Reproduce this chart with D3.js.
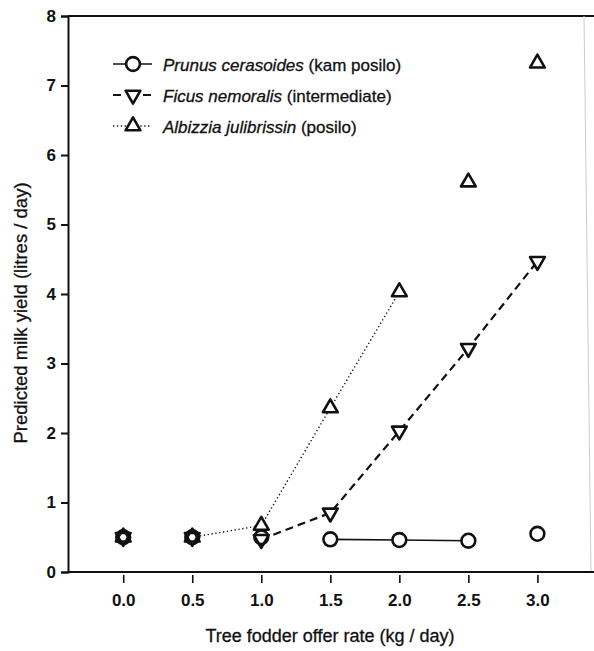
<!DOCTYPE html>
<html>
<head>
<meta charset="utf-8">
<script src="https://cdn.jsdelivr.net/npm/d3@7"></script>
<style>
  body { margin: 0; background: #fff; }
  svg { display: block; font-family: "Liberation Sans", Arial, sans-serif; }
</style>
</head>
<body>
<div id="chart"></div>
<script>
const width = 594;
const height = 651;

// offer rate (kg / day)
const offerRates = [0, 0.5, 1.0, 1.5, 2.0, 2.5, 3.0];
const xTickLabels = ["0.0", "0.5", "1.0", "1.5", "2.0", "2.5", "3.0"];
const yTicks = [0, 1, 2, 3, 4, 5, 6, 7, 8];

// predicted milk yield (litres / day)
const prunusYield = [0.5, 0.5, 0.5, 0.47, 0.46, 0.45, 0.55];
const ficusYield = [0.5, 0.5, 0.47, 0.85, 2.03, 3.22, 4.47];
const albizziaYield = [0.5, 0.5, 0.67, 2.36, 4.03, 5.61, 7.32];

// which points are joined by the fitted line (first, last index)
const prunusLine = [3, 5];
const ficusLine = [2, 6];
const albizziaLine = [1, 4];

const series = [
    { name: "Prunus cerasoides", note: " (kam posilo)", values: prunusYield, span: prunusLine, symbol: "circle", dash: null, lw: 1.6 },
    { name: "Ficus nemoralis", note: " (intermediate)", values: ficusYield, span: ficusLine, symbol: "down", dash: "8,5", lw: 2.2 },
    { name: "Albizzia julibrissin", note: " (posilo)", values: albizziaYield, span: albizziaLine, symbol: "up", dash: "1.3,2.6", lw: 1.4 }
];

const svg = d3.select("#chart").append("svg")
    .attr("width", width)
    .attr("height", height);

const x = d3.scaleLinear().domain([-0.4, 3.41]).range([68, 594]);
const y = d3.scaleLinear().domain([0, 8]).range([572, 16]);

// frame: top line plus faint right page edge
svg.append("line").attr("x1", 68).attr("x2", 594).attr("y1", y(8)).attr("y2", y(8))
    .attr("stroke", "#111").attr("stroke-width", 2);
svg.append("line").attr("x1", 584).attr("x2", 591).attr("y1", y(8)).attr("y2", y(0))
    .attr("stroke", "#ccc").attr("stroke-width", 1);

const yAxis = svg.append("g")
    .attr("transform", `translate(68,0)`)
    .call(d3.axisLeft(y).tickValues(yTicks).tickFormat(d3.format("d")).tickSize(7).tickPadding(5));
yAxis.select(".domain").attr("stroke-width", 2).attr("stroke", "#111");
yAxis.selectAll(".tick line").attr("stroke-width", 2).attr("stroke", "#111");
yAxis.selectAll(".tick text").attr("font-size", 17).attr("font-weight", "bold").attr("fill", "#111");

// bottom axis line
svg.append("line").attr("x1", 68).attr("x2", 594).attr("y1", y(0)).attr("y2", y(0))
    .attr("stroke", "#111").attr("stroke-width", 2);

const xAxis = svg.append("g")
    .attr("transform", `translate(0,${y(0) + 3})`)
    .call(d3.axisBottom(x).tickValues(offerRates).tickFormat((d, i) => xTickLabels[i]).tickSize(8).tickPadding(11));
xAxis.select(".domain").remove();
xAxis.selectAll(".tick line").attr("stroke-width", 1.6).attr("stroke", "#111");
xAxis.selectAll(".tick text").attr("font-size", 17).attr("font-weight", "bold").attr("fill", "#111");

// axis titles
svg.append("text")
    .attr("x", 330).attr("y", 642)
    .attr("text-anchor", "middle")
    .attr("font-size", 18)
    .attr("fill", "#111").attr("stroke", "#111").attr("stroke-width", 0.3)
    .text("Tree fodder offer rate (kg / day)");

svg.append("text")
    .attr("transform", `translate(27,313) rotate(-90)`)
    .attr("text-anchor", "middle")
    .attr("font-size", 18.5)
    .attr("fill", "#111").attr("stroke", "#111").attr("stroke-width", 0.3)
    .text("Predicted milk yield (litres / day)");

// lines
const line = d3.line().x(d => x(d[0])).y(d => y(d[1]));
series.forEach(s => {
    const pts = offerRates.map((r, i) => [r, s.values[i]]).slice(s.span[0], s.span[1] + 1);
    svg.append("path")
        .attr("d", line(pts))
        .attr("fill", "none")
        .attr("stroke", "#111")
        .attr("stroke-width", s.lw)
        .attr("stroke-dasharray", s.dash);
});

function symbolPath(sym) {
    if (sym === "circle") return d3.symbol(d3.symbolCircle, 150)();
    return d3.symbol(d3.symbolTriangle, 95)();
}

function drawMarker(g, s, cx, cy, fill, stroke) {
    g.append("path")
        .attr("d", symbolPath(s.symbol))
        .attr("transform", `translate(${cx},${cy})` + (s.symbol === "down" ? " rotate(180)" : ""))
        .attr("fill", fill)
        .attr("stroke", stroke)
        .attr("stroke-width", stroke === "none" ? 0 : 2.6)
        .attr("stroke-linejoin", "round");
}

// markers: white fills first so lines stop at markers, then outlines
const markers = svg.append("g");
series.forEach(s => {
    s.values.forEach((v, i) => drawMarker(markers, s, x(offerRates[i]), y(v), "#fff", "none"));
});
series.forEach(s => {
    s.values.forEach((v, i) => drawMarker(markers, s, x(offerRates[i]), y(v), "none", "#111"));
});

// legend
const legend = svg.append("g");
series.forEach((s, i) => {
    const ly = 64 + i * 31;
    legend.append("line")
        .attr("x1", 113).attr("x2", 152).attr("y1", ly).attr("y2", ly)
        .attr("stroke", "#111")
        .attr("stroke-width", s.lw)
        .attr("stroke-dasharray", s.dash === "8,5" ? "8,7" : s.dash);
    drawMarker(legend, s, 133, ly, "#fff", "#111");
    const t = legend.append("text")
        .attr("x", 163).attr("y", ly + 7)
        .attr("font-size", 17)
        .attr("fill", "#111").attr("stroke", "#111").attr("stroke-width", 0.3);
    t.append("tspan").attr("font-style", "italic").text(s.name);
    t.append("tspan").text(s.note);
});
</script>
</body>
</html>
